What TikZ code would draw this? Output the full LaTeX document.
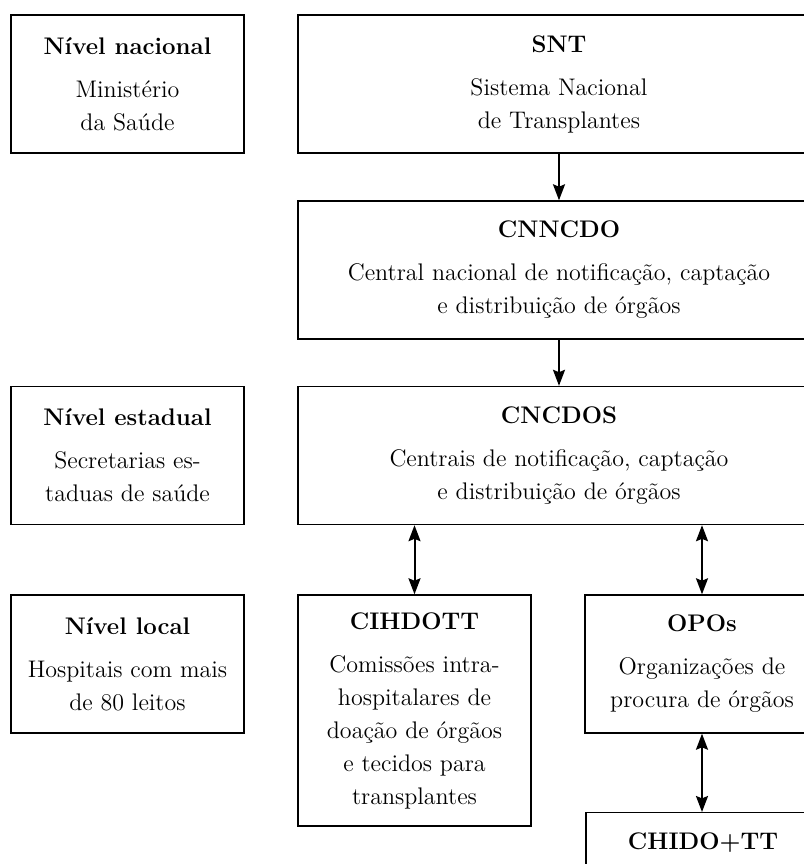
\documentclass[tikz,border=0pt]{standalone}
\usepackage{fontspec}
\usetikzlibrary{arrows.meta}

\tikzset{
    org box/.style={
        draw,line width=.7pt,
        align=center,inner sep=0pt,
        minimum width=116.5pt,minimum height=69pt,
        font=\fontsize{12}{16.5}\selectfont
    },
    wide box/.style={org box,minimum width=261pt},
    link/.style={line width=1pt,-{Stealth[length=8pt,width=6pt,inset=1.2pt]}},
    both link/.style={line width=1pt,{Stealth[length=8pt,width=6pt,inset=1.2pt]}-{Stealth[length=8pt,width=6pt,inset=1.2pt]}}
}

\begin{document}
\begin{tikzpicture}[x=.5pt,y=-.5pt]
        \clip (0,0) rectangle (804,864);
        \node[org box] (nacional) at (127.5,84) {\textbf{Nível nacional}\\[5pt]Ministério\\da Saúde};
        \node[wide box] (snt) at (559,84) {\textbf{SNT}\\[5pt]Sistema Nacional\\de Transplantes};
        \node[wide box] (cnncdo) at (559,270) {\textbf{CNNCDO}\\[5pt]Central nacional de notificação, captação\\e distribuição de órgãos};
        \node[org box] (estadual) at (127.5,455.5) {\textbf{Nível estadual}\\[5pt]Secretarias es-\\taduas de saúde};
        \node[wide box] (cncdos) at (559,455.5) {\textbf{CNCDOS}\\[5pt]Centrais de notificação, captação\\e distribuição de órgãos};
        \node[org box] (local) at (127.5,664) {\textbf{Nível local}\\[5pt]Hospitais com mais\\de 80 leitos};
        \node[org box,minimum height=115.5pt] (cihdott) at (414.5,710.5) {\textbf{CIHDOTT}\\[5pt]Comissões intra-\\hospitalares de\\doação de órgãos\\e tecidos para\\transplantes};
        \node[org box,minimum width=117pt] (opos) at (702,664) {\textbf{OPOs}\\[5pt]Organizações de\\procura de órgãos};
        \node[org box,minimum width=117pt,minimum height=30pt,anchor=north] (chido) at (703,812) {\textbf{CHIDO+TT}};
        \draw[link] (snt) -- (cnncdo);
        \draw[link] (cnncdo) -- (cncdos);
        \foreach \a/\b in {cihdott/cncdos,opos/cncdos}
            \draw[both link] (\a.north) -- (\a.north |- \b.south);
        \draw[both link] (opos.south) -- (opos.south |- chido.north);
    \end{tikzpicture}
\end{document}
